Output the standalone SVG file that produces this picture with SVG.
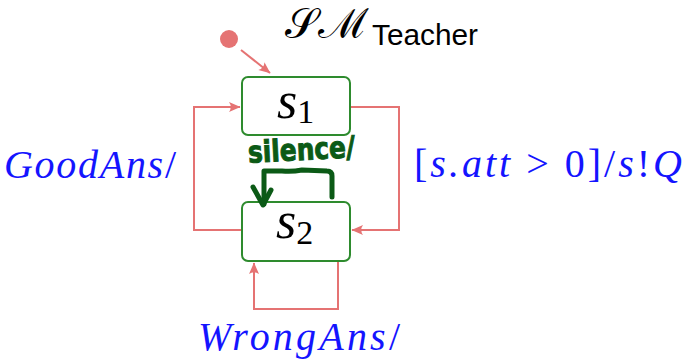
<svg xmlns="http://www.w3.org/2000/svg" width="688" height="362" viewBox="0 0 688 362">
  <style>
    .state { fill: #ffffff; stroke: #2e8b2e; stroke-width: 2; }
    .edge { fill: none; stroke: #e57373; stroke-width: 2; }
    .name { font-family: 'Liberation Serif', serif; font-style: italic; font-size: 52px; fill: #000000; }
    .sub { font-style: normal; font-size: 34px; }
    .math { font-family: 'Liberation Serif', serif; font-style: italic; font-size: 40px; fill: #1414ff; }
    .up { font-style: normal; }
    .note { fill: none; stroke: #0b5a16; stroke-width: 5; stroke-linecap: round; stroke-linejoin: round; }
  </style>
  <defs>
    <!-- stealth-style arrow tip; the tip sits on the path end -->
    <marker id="arrow" viewBox="-12 -6 13 12" refX="0" refY="0" markerWidth="13" markerHeight="12" markerUnits="userSpaceOnUse" orient="auto">
      <path d="M 0.5 0 L -11 -5 Q -7.5 0 -11 5 Z" fill="#e57373"/>
    </marker>
  </defs>

  <rect width="688" height="362" fill="#ffffff"/>

  <!-- machine title -->
  <g id="title">
    <text x="285" y="38" font-family="DejaVu Serif, serif" font-size="42" fill="#000" textLength="80" lengthAdjust="spacingAndGlyphs">𝒮ℳ</text>
    <text x="372" y="45" font-family="Liberation Sans, Arial, sans-serif" font-size="29" fill="#000" textLength="106" lengthAdjust="spacingAndGlyphs">Teacher</text>
  </g>

  <!-- transitions -->
  <g id="connectors">
    <circle cx="229" cy="39" r="9" fill="#e57373"/>
    <path class="edge" d="M 241 50 L 270 73" marker-end="url(#arrow)"/>
    <path class="edge" d="M 242 230 H 194 V 107 H 240" marker-end="url(#arrow)"/>
    <path class="edge" d="M 350 107 H 399 V 230 H 352" marker-end="url(#arrow)"/>
    <path class="edge" d="M 338 261 V 309 H 254 V 263" marker-end="url(#arrow)"/>
  </g>

  <!-- states -->
  <g id="s1">
    <rect class="state" x="242" y="77" width="108" height="58" rx="6"/>
    <text class="name" x="277" y="118">s<tspan class="sub" dy="5">1</tspan></text>
  </g>
  <g id="s2">
    <rect class="state" x="242" y="202" width="108" height="59" rx="6"/>
    <text class="name" x="276" y="238">s<tspan class="sub" dy="6">2</tspan></text>
  </g>

  <!-- transition labels -->
  <g id="labels">
    <text class="math" x="4" y="178" textLength="172" lengthAdjust="spacing">GoodAns<tspan class="up">/</tspan></text>
    <text class="math" x="414" y="177" textLength="268" lengthAdjust="spacing"><tspan class="up">[</tspan>s.att <tspan class="up">&gt; 0]/</tspan>s<tspan class="up">!</tspan>Q</text>
    <text class="math" x="198" y="350" textLength="202" lengthAdjust="spacing">WrongAns<tspan class="up">/</tspan></text>
  </g>

  <!-- handwritten annotation -->
  <g id="annotation">
    <text x="248" y="160" font-family="DejaVu Sans, sans-serif" font-weight="bold" font-size="30" fill="#0b5a16" stroke="#0b5a16" stroke-width="1" textLength="107" lengthAdjust="spacingAndGlyphs" transform="rotate(-3 300 150)">silence/</text>
    <path class="note" d="M 332 197 V 176 Q 332 171 327 171 L 302 170 Q 292 172 282 171 L 264 171 V 204"/>
    <path class="note" d="M 253 187 L 263 205 L 271 190"/>
  </g>
</svg>
